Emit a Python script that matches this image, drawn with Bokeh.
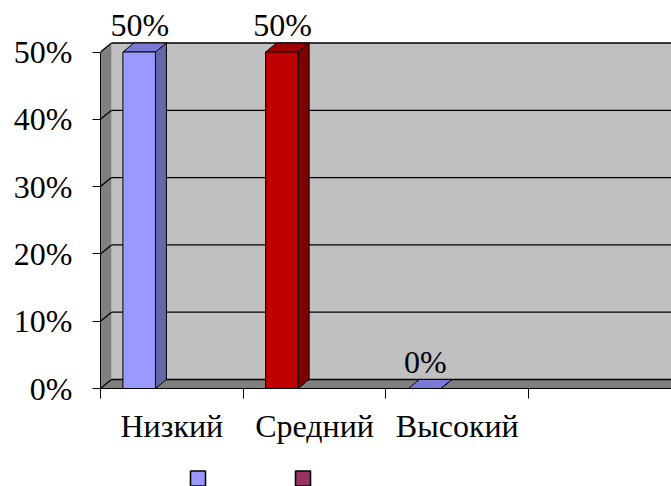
from bokeh.plotting import figure
from bokeh.layouts import column
from bokeh.models import FixedTicker, NumeralTickFormatter, Range1d
from bokeh.core.properties import value
from bokeh.embed import file_html
from bokeh.resources import INLINE

# ---- data ----
categories = ["Низкий", "Средний", "Высокий", ""]
series1_values = [0.50, 0.50, 0.00]
y_ticks = [0.0, 0.1, 0.2, 0.3, 0.4, 0.5]
legend_series = ["1", "2"]

# ---- styles ----
point_front = ["#9999FF", "#C00000", "#9999FF"]
point_top = ["#7A7AD6", "#9E0000", "#7A7AD6"]
point_side = ["#6666AA", "#7E0000", "#6666AA"]
legend_colors = ["#9999FF", "#993366"]
FONT = "Liberation Serif"
FS = "32px"

W = 671
H_MAIN, H_LEG = 462, 24
LEFT = 100
FRAME_H = 388
X_END = (W - LEFT) / 142.7
Y_END = FRAME_H / 673.0
DX = 11 / 142.7   # depth offset (x, in category units)
DY = 9 / 673.0    # depth offset (y, in value units)
BAR_OFF = 0.157
BAR_W = 0.228

p = figure(width=W, height=H_MAIN, x_range=Range1d(0, X_END), y_range=Range1d(0, Y_END),
           output_backend="svg", toolbar_location=None, title=None,
           min_border_left=LEFT, min_border_right=0, min_border_top=0,
           min_border_bottom=H_MAIN - FRAME_H)
p.xgrid.visible = False
p.ygrid.visible = False
p.outline_line_color = None
p.background_fill_color = "white"
p.border_fill_color = "white"

# ---- walls ----
y_top = max(y_ticks)
p.quad(left=[DX], right=[X_END], bottom=[DY], top=[y_top + DY],
       fill_color="#C0C0C0", line_color=None)
p.patch(x=[0, DX, DX, 0], y=[0, DY, y_top + DY, y_top], fill_color="#808080", line_color=None)
p.patch(x=[0, DX, X_END, X_END], y=[0, DY, DY, 0], fill_color="#808080", line_color=None)

# gridlines on back wall and side wall
p.multi_line(xs=[[DX, X_END] for _ in y_ticks], ys=[[t + DY, t + DY] for t in y_ticks],
             line_color="black", line_width=1.3)
p.multi_line(xs=[[0, DX] for _ in y_ticks], ys=[[t, t + DY] for t in y_ticks],
             line_color="black", line_width=1.3)

# ---- bars (series 1) ----
lefts = [i + BAR_OFF for i in range(len(series1_values))]
rights = [l + BAR_W for l in lefts]
p.patches(xs=[[r, r + DX, r + DX, r] for r in rights],
          ys=[[0, DY, v + DY, v] for v in series1_values],
          fill_color=point_side, line_color="black", line_width=1)
p.patches(xs=[[l, l + DX, r + DX, r] for l, r in zip(lefts, rights)],
          ys=[[v, v + DY, v + DY, v] for v in series1_values],
          fill_color=point_top, line_color="black", line_width=1)
p.quad(left=lefts, right=rights, bottom=[0] * len(series1_values), top=series1_values,
       fill_color=point_front, line_color="black", line_width=1)

# data labels
p.text(x=[l + BAR_W / 2 + 0.005 for l in lefts], y=[v + DY for v in series1_values],
       text=[f"{round(v * 100)}%" for v in series1_values],
       text_font=value(FONT), text_font_size=FS, text_align="center",
       text_baseline="bottom", text_color="black")

# ---- axes ----
ya = p.yaxis[0]
ya.ticker = FixedTicker(ticks=y_ticks)
ya.formatter = NumeralTickFormatter(format="0%")
ya.bounds = (0, y_top)
ya.major_tick_out = 8
ya.major_tick_in = 0
ya.minor_tick_line_color = None
ya.axis_line_color = "black"
ya.major_tick_line_color = "black"
ya.major_label_standoff = 20
ya.major_label_text_font = FONT
ya.major_label_text_font_size = FS
ya.major_label_text_color = "black"

xa = p.xaxis[0]
centers = [i + 0.5 for i in range(len(categories))]
xa.ticker = FixedTicker(ticks=centers, minor_ticks=list(range(len(categories) + 1)))
xa.major_label_overrides = {c: name for c, name in zip(centers, categories)}
xa.major_tick_line_color = None
xa.major_tick_out = 0
xa.major_tick_in = 0
xa.minor_tick_out = 10
xa.minor_tick_in = 0
xa.minor_tick_line_color = "black"
xa.axis_line_color = "black"
xa.major_label_standoff = 9
xa.major_label_text_font = FONT
xa.major_label_text_font_size = FS
xa.major_label_text_color = "black"

# ---- legend keys (series without names) ----
# column() aligns this figure's frame with the main frame (x from LEFT to W)
LEG_X0, LEG_STEP = 197.5, 105.0
lg = figure(width=W, height=H_LEG, x_range=Range1d(LEFT, W), y_range=Range1d(0, H_LEG),
            output_backend="svg", toolbar_location=None, title=None,
            min_border_left=LEFT, min_border_right=0, min_border_top=0, min_border_bottom=0,
            x_axis_type=None, y_axis_type=None)
lg.xgrid.visible = False
lg.ygrid.visible = False
lg.outline_line_color = None
lg.scatter(x=[LEG_X0 + i * LEG_STEP for i in range(len(legend_series))],
           y=[H_LEG - 16] * len(legend_series), marker="square", size=15,
           fill_color=legend_colors, line_color="black", line_width=1.6)

layout = column(p, lg, spacing=0)
open("out.html", "w").write(file_html(layout, INLINE))
